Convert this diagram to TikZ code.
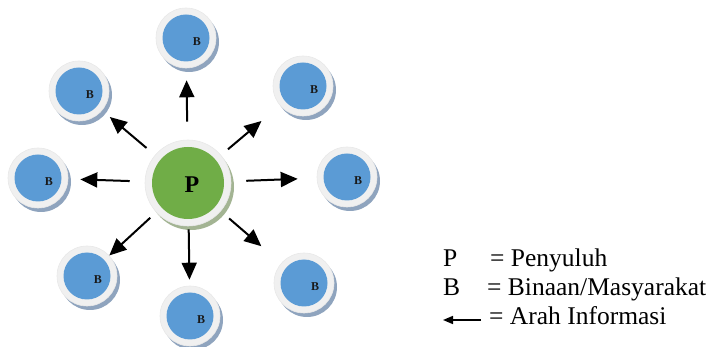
\documentclass[tikz,border=0pt]{standalone}
\usepackage{fontspec}
\setmainfont{Liberation Serif}
\usetikzlibrary{arrows.meta}
\definecolor{bblue}{HTML}{5B9BD5}
\definecolor{pgreen}{HTML}{70AD47}
\definecolor{ringgray}{HTML}{F0F0F0}
\definecolor{shblue}{HTML}{8FA4BE}
\definecolor{shgreen}{HTML}{A3B493}
\tikzset{
  bshadow/.style={circle, fill=shblue, minimum size=60pt, inner sep=0pt},
  bring/.style={circle, fill=ringgray, draw=black!9, line width=0.6pt, minimum size=60pt, inner sep=0pt},
  bcore/.style={circle, fill=bblue, minimum size=47pt, inner sep=0pt},
  blabel/.style={font=\bfseries\fontsize{12}{12}\selectfont, text=black!90, inner sep=0pt},
  pshadow/.style={circle, fill=shgreen, minimum size=86pt, inner sep=0pt},
  pring/.style={circle, fill=ringgray, draw=black!9, line width=0.6pt, minimum size=86pt, inner sep=0pt},
  pcore/.style={circle, fill=pgreen, minimum size=72pt, inner sep=0pt},
  plabel/.style={font=\bfseries\fontsize{24}{24}\selectfont, text=black, inner sep=0pt},
  arr/.style={line width=2pt, -{Triangle[length=17pt,width=15pt]}},
  legend/.style={font=\fontsize{25.5}{25.5}\selectfont, anchor=base west, inner sep=0pt},
}
\newcommand\bnode[3]{%
  \node[bshadow] (#1s) at (#2,#3) [xshift=3pt,yshift=-4pt] {};
  \node[bring] (#1) at (#2,#3) {};
  \node[bcore] (#1c) at (#1) {};
  \node[blabel] (#1l) at ([shift={(11,4)}]#1) {B};
}
\begin{document}
\begin{tikzpicture}[x=1pt,y=-1pt]
\useasboundingbox (0,0) rectangle (718,347);
% centre
\node[pshadow] (ps) at (188,183) [xshift=3pt,yshift=-4pt] {};
\node[pring] (p) at (188,183) {};
\node[pcore] (pc) at (p) {};
\node[plabel] (pl) at ([shift={(4,2)}]p) {P};
% surrounding
\bnode{bt}{186}{38}
\bnode{btr}{303}{86}
\bnode{br}{347}{177}
\bnode{bbr}{304}{283}
\bnode{bb}{190}{316}
\bnode{bbl}{87}{276}
\bnode{bl}{38}{178}
\bnode{btl}{79}{91}
% arrows
\draw[arr, shorten <=18pt, shorten >=12pt] (p) -- (bt);
\draw[arr, shorten <=9pt, shorten >=24pt] (p) -- (btr);
\draw[arr, shorten <=15pt, shorten >=19pt] (p) -- (br);
\draw[arr, shorten <=11pt, shorten >=26pt] (p) -- (bbr);
\draw[arr, shorten <=3pt, shorten >=6pt] (p) -- (bb);
\draw[arr, shorten <=8pt, shorten >=0pt] (p) -- (bbl);
\draw[arr, shorten <=15pt, shorten >=12pt] (p) -- (bl);
\draw[arr, shorten <=11pt, shorten >=10pt] (p) -- (btl);
% legend
\node[legend] (lp) at (443,267) {P};
\node[legend] (lpt) at (490,267) {= Penyuluh};
\node[legend] (lb) at (443,296) {B};
\node[legend] (lbt) at (487,296) {= Binaan/Masyarakat};
\coordinate (la1) at (481,320);
\coordinate (la0) at (443,320);
\draw[line width=1.6pt, -{Triangle[length=10pt,width=8pt]}] (la1) -- (la0);
\node[legend] (lat) at (489,325) {= Arah Informasi};
\end{tikzpicture}
\end{document}
